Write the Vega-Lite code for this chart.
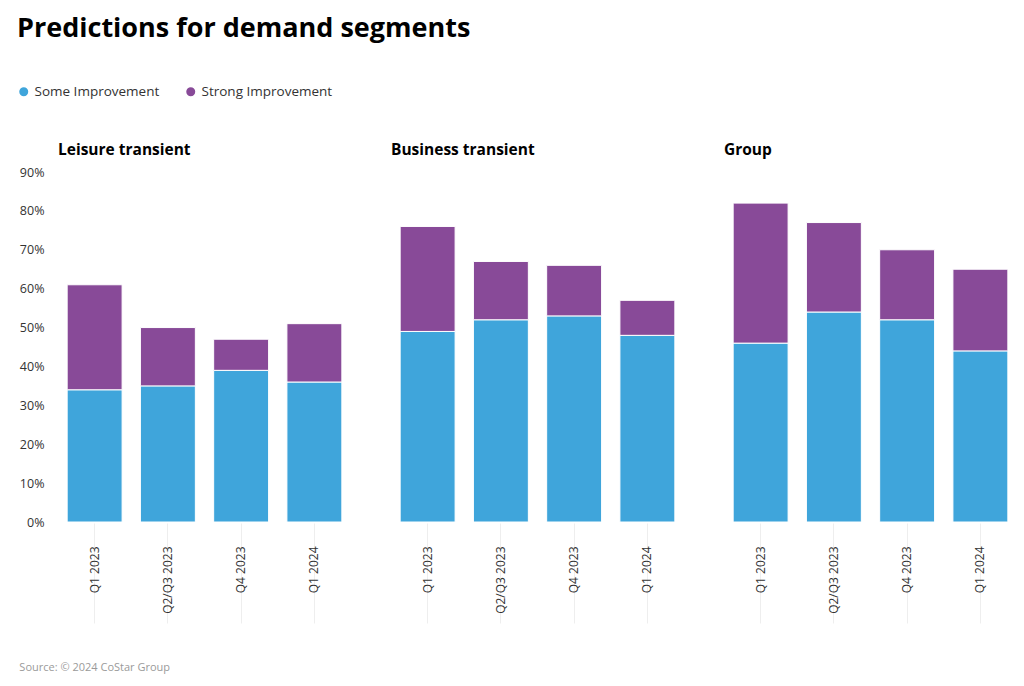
{
  "$schema": "https://vega.github.io/schema/vega-lite/v6.json",
  "padding": {"left": 17, "top": 15, "right": 6, "bottom": 10},
  "background": "white",
  "title": {"text": "Predictions for demand segments", "anchor": "start", "frame": "bounds", "fontSize": 27, "fontWeight": "bold", "font": "Open Sans", "color": "#000000", "offset": 42},
  "config": {"view": {"stroke": null}, "font": "Open Sans"},
  "datasets": {
    "d": [
      {"segment": "Leisure transient", "quarter": "Q1 2023", "type": "Some Improvement", "value": 34},
      {"segment": "Leisure transient", "quarter": "Q1 2023", "type": "Strong Improvement", "value": 27},
      {"segment": "Leisure transient", "quarter": "Q2/Q3 2023", "type": "Some Improvement", "value": 35},
      {"segment": "Leisure transient", "quarter": "Q2/Q3 2023", "type": "Strong Improvement", "value": 15},
      {"segment": "Leisure transient", "quarter": "Q4 2023", "type": "Some Improvement", "value": 39},
      {"segment": "Leisure transient", "quarter": "Q4 2023", "type": "Strong Improvement", "value": 8},
      {"segment": "Leisure transient", "quarter": "Q1 2024", "type": "Some Improvement", "value": 36},
      {"segment": "Leisure transient", "quarter": "Q1 2024", "type": "Strong Improvement", "value": 15},
      {"segment": "Business transient", "quarter": "Q1 2023", "type": "Some Improvement", "value": 49},
      {"segment": "Business transient", "quarter": "Q1 2023", "type": "Strong Improvement", "value": 27},
      {"segment": "Business transient", "quarter": "Q2/Q3 2023", "type": "Some Improvement", "value": 52},
      {"segment": "Business transient", "quarter": "Q2/Q3 2023", "type": "Strong Improvement", "value": 15},
      {"segment": "Business transient", "quarter": "Q4 2023", "type": "Some Improvement", "value": 53},
      {"segment": "Business transient", "quarter": "Q4 2023", "type": "Strong Improvement", "value": 13},
      {"segment": "Business transient", "quarter": "Q1 2024", "type": "Some Improvement", "value": 48},
      {"segment": "Business transient", "quarter": "Q1 2024", "type": "Strong Improvement", "value": 9},
      {"segment": "Group", "quarter": "Q1 2023", "type": "Some Improvement", "value": 46},
      {"segment": "Group", "quarter": "Q1 2023", "type": "Strong Improvement", "value": 36},
      {"segment": "Group", "quarter": "Q2/Q3 2023", "type": "Some Improvement", "value": 54},
      {"segment": "Group", "quarter": "Q2/Q3 2023", "type": "Strong Improvement", "value": 23},
      {"segment": "Group", "quarter": "Q4 2023", "type": "Some Improvement", "value": 52},
      {"segment": "Group", "quarter": "Q4 2023", "type": "Strong Improvement", "value": 18},
      {"segment": "Group", "quarter": "Q1 2024", "type": "Some Improvement", "value": 44},
      {"segment": "Group", "quarter": "Q1 2024", "type": "Strong Improvement", "value": 21}
    ]
  },
  "vconcat": [
    {
      "data": {"name": "d"},
      "title": {"text": "Source: © 2024 CoStar Group", "orient": "bottom", "anchor": "start", "frame": "bounds", "fontSize": 11, "fontWeight": "normal", "font": "Open Sans", "color": "#9a9a9a", "offset": 38},
      "facet": {
        "column": {
          "field": "segment", "type": "nominal",
          "sort": ["Leisure transient", "Business transient", "Group"],
          "header": {"title": null, "labelAnchor": "start", "labelFontWeight": "bold", "labelFontSize": 15.5, "labelFont": "Open Sans", "labelColor": "#000000", "labelPadding": 14}
        }
      },
      "spacing": 40,
      "spec": {
        "width": 293,
        "height": 350,
        "mark": {"type": "bar", "width": {"band": 1}, "stroke": "white", "strokeWidth": 1},
        "encoding": {
          "x": {
            "field": "quarter", "type": "nominal",
            "sort": ["Q1 2023", "Q2/Q3 2023", "Q4 2023", "Q1 2024"],
            "scale": {"paddingInner": 0.25, "paddingOuter": 0.125},
            "axis": {"title": null, "labelAngle": -90, "domain": false, "ticks": true, "tickSize": 100, "tickColor": "#eeeeee", "tickWidth": 1, "labelPadding": -77, "labelFontSize": 12, "labelColor": "#333333", "labelFont": "Open Sans"}
          },
          "y": {
            "field": "value", "type": "quantitative", "stack": "zero",
            "scale": {"domain": [0, 90]},
            "axis": {"title": null, "tickCount": 10, "labelExpr": "datum.value + '%'", "domain": false, "ticks": false, "grid": false, "labelPadding": 14, "labelFontSize": 12.5, "labelColor": "#333333", "labelFont": "Open Sans"}
          },
          "color": {
            "field": "type", "type": "nominal",
            "scale": {"domain": ["Some Improvement", "Strong Improvement"], "range": ["#3FA5DB", "#884A98"]},
            "legend": {"orient": "none", "legendX": -41, "legendY": -87, "direction": "horizontal", "title": null, "symbolType": "circle", "symbolSize": 110, "labelFontSize": 13.5, "labelFont": "Open Sans", "labelColor": "#333333", "columnPadding": 22}
          },
          "order": {"field": "type", "sort": "ascending"}
        }
      }
    }
  ]
}
